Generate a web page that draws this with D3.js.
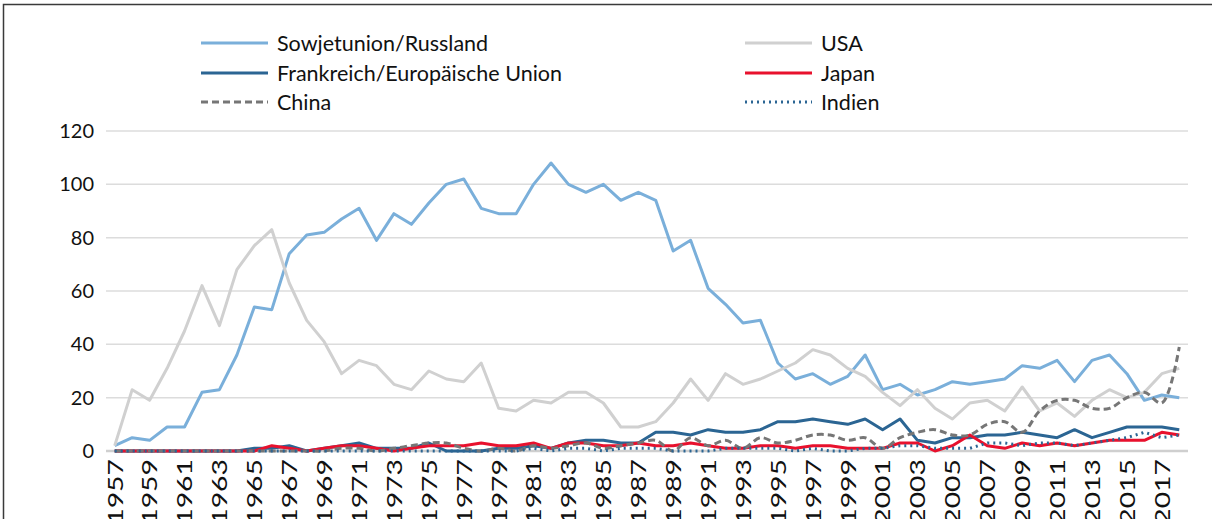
<!DOCTYPE html>
<html>
<head>
<meta charset="utf-8">
<script src="https://cdn.jsdelivr.net/npm/d3@7"></script>
<style>
	body { margin: 0; background: white; }
	svg text { font-family: Lato, "Open Sans", sans-serif; }
</style>
</head>
<body>
<div id="chart"></div>
<script>
const years = d3.range(1957, 2019)

const yTicks = [0, 20, 40, 60, 80, 100, 120]

const russland = [2,5,4,9,9,22,23,36,54,53, 74,81,82,87,91,79,89,85,93,100, 102,91,89,89,100,108,100,97,100,94, 97,94,75,79,61,55,48,49,33,27, 29,25,28,36,23,25,21,23,26,25, 26,27,32,31,34,26,34,36,29,19, 21,20]
const usa = [2,23,19,31,45,62,47,68,77,83, 63,49,41,29,34,32,25,23,30,27, 26,33,16,15,19,18,22,22,18,9, 9,11,18,27,19,29,25,27,30,33, 38,36,31,28,22,17,23,16,12,18, 19,15,24,15,18,13,19,23,20,22, 29,31]
const frankreich = [0,0,0,0,0,0,0,0,1,1, 2,0,1,2,3,1,1,1,3,0, 0,0,1,1,2,1,3,4,4,3, 3,7,7,6,8,7,7,8,11,11, 12,11,10,12,8,12,4,3,5,5, 6,6,7,6,5,8,5,7,9,9, 9,8]
const japan = [0,0,0,0,0,0,0,0,0,2, 1,0,1,2,2,1,0,1,2,2, 2,3,2,2,3,1,3,3,2,2, 3,2,2,3,2,1,1,2,2,1, 2,2,1,1,1,3,3,0,2,6, 2,1,3,2,3,2,3,4,4,4, 7,6]
const china = [0,0,0,0,0,0,0,0,0,0, 0,0,0,1,1,0,1,2,3,3, 1,0,1,0,2,1,2,3,1,2, 3,4,0,5,2,4,1,5,3,4, 6,6,4,5,1,5,7,8,6,6, 10,11,7,15,19,19,16,16,20,22, 18,39]
const indien = [0,0,0,0,0,0,0,0,0,0, 0,0,0,0,0,0,0,0,0,0, 0,0,0,0,1,0,1,1,0,1, 1,1,0,0,0,1,1,1,1,0, 1,0,0,1,1,2,2,1,1,1, 3,3,2,3,3,2,3,4,5,7, 5,6]

const series = [
	{ name: "Sowjetunion/Russland", values: russland, color: "#7AAFDA", dash: null, smooth: false },
	{ name: "USA", values: usa, color: "#D0D0D0", dash: null, smooth: false },
	{ name: "Frankreich/Europäische Union", values: frankreich, color: "#2B6593", dash: null, smooth: false },
	{ name: "Japan", values: japan, color: "#E8112D", dash: null, smooth: false },
	{ name: "China", values: china, color: "#767676", dash: "7,4", smooth: true },
	{ name: "Indien", values: indien, color: "#2B6593", dash: "2,4", smooth: false }
]

const width = 1212, height = 519

const svg = d3.select("#chart")
	.append("svg")
	.attr("width", width)
	.attr("height", height)

// outer frame (only top and left are visible in the crop)
svg.append("rect")
	.attr("x", 3.5)
	.attr("y", 4.5)
	.attr("width", width + 10)
	.attr("height", height + 10)
	.attr("fill", "none")
	.attr("stroke", "#3a3a3a")
	.attr("stroke-width", 1.5)

const x = d3.scalePoint()
	.domain(years)
	.range([106, 1188])
	.padding(0.5)

const y = d3.scaleLinear()
	.domain([0, 120])
	.range([451, 131])

// gridlines
svg.append("g")
	.selectAll("line")
	.data(yTicks)
	.enter()
	.append("line")
	.attr("x1", 106)
	.attr("x2", 1188)
	.attr("y1", d => y(d))
	.attr("y2", d => y(d))
	.attr("stroke", d => d == 0 ? "#CFCFCF" : "#DCDCDC")
	.attr("stroke-width", d => d == 0 ? 2.5 : 1.5)

// y axis labels
const yAxis = svg.append("g")
	.attr("transform", "translate(94,0)")
	.call(d3.axisLeft(y).tickValues(yTicks).tickSize(0).tickPadding(0))
yAxis.select(".domain").remove()
yAxis.selectAll("text")
	.attr("font-family", "Lato")
	.style("font-size", "20px")
	.attr("fill", "#111")

// x axis labels, rotated (they run off the bottom edge like in the original)
const xAxis = svg.append("g")
	.attr("transform", "translate(0,451)")
	.call(d3.axisBottom(x).tickValues(years.filter(d => (d - 1957) % 2 == 0)).tickSize(0))
xAxis.select(".domain").remove()
xAxis.selectAll("text")
	.attr("font-family", "Lato")
	.style("font-size", "21px")
	.attr("fill", "#111")
	.attr("text-anchor", "end")
	.attr("dy", "0.35em")
	.attr("y", 0)
	.attr("transform", "translate(0,8) rotate(-90) scale(1.35,1)")

// lines
const straight = d3.line()
	.x((d, i) => x(years[i]))
	.y(d => y(d))

const smooth = d3.line()
	.x((d, i) => x(years[i]))
	.y(d => y(d))
	.curve(d3.curveCatmullRom.alpha(0.5))

svg.append("g")
	.selectAll("path")
	.data(series)
	.enter()
	.append("path")
	.attr("d", d => d.smooth ? smooth(d.values) : straight(d.values))
	.attr("fill", "none")
	.attr("stroke", d => d.color)
	.attr("stroke-width", 3)
	.attr("stroke-dasharray", d => d.dash)
	.attr("stroke-linejoin", "round")

// legend
const legendX = [201, 745]
const legendY = [43, 73, 102]

const legend = svg.append("g")
	.selectAll("g")
	.data(series)
	.enter()
	.append("g")
	.attr("transform", (d, i) => "translate(" + legendX[i % 2] + "," + legendY[Math.floor(i / 2)] + ")")

legend.append("line")
	.attr("x1", 0)
	.attr("x2", 67)
	.attr("stroke", d => d.color)
	.attr("stroke-width", 3)
	.attr("stroke-dasharray", d => d.dash)

legend.append("text")
	.attr("x", 76)
	.attr("dy", "0.35em")
	.style("font-size", "21.5px")
	.attr("fill", "#111")
	.text(d => d.name)
</script>
</body>
</html>
